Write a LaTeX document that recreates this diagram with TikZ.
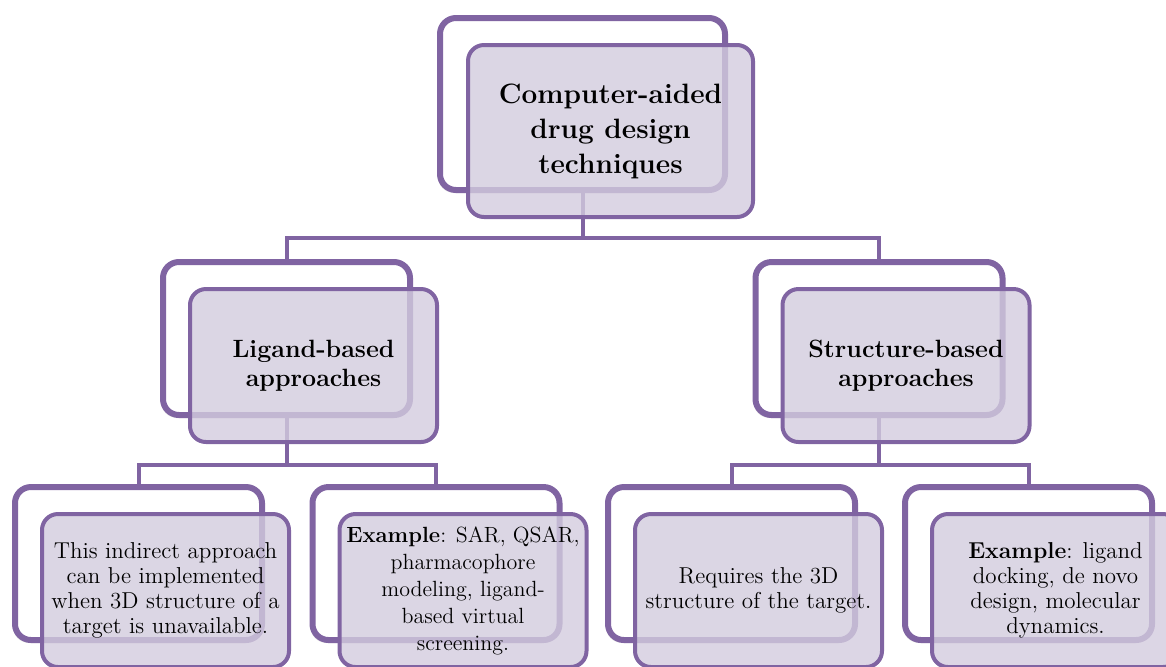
\documentclass[tikz,border=0pt]{standalone}
\usepackage{tikz}
\usetikzlibrary{shadows}

\definecolor{caddpurple}{RGB}{128,100,162}
\definecolor{caddlav}{RGB}{211,204,222}

\tikzset{
  backbox/.style={draw=caddpurple, line width=3pt, rounded corners=8pt, fill=white,
    minimum width=123.5pt, minimum height=76.5pt,
    drop shadow={shadow xshift=-1pt, shadow yshift=-1.5pt, opacity=0.18}},
  frontbox/.style={draw=caddpurple, line width=2pt, rounded corners=8pt,
    fill=caddlav, fill opacity=0.8, text opacity=1, align=center, inner sep=2pt,
    minimum width=123.5pt, minimum height=76.5pt},
  link/.style={draw=caddpurple, line width=2pt},
  toptext/.style={font=\fontsize{14}{17.5}\selectfont\bfseries},
  midtext/.style={font=\fontsize{12.5}{14.5}\selectfont\bfseries},
  lowtext/.style={font=\fontsize{11.5}{12.5}\selectfont},
}

\begin{document}
\begin{tikzpicture}[x=0.5pt,y=-0.5pt]
      \useasboundingbox (0,0) rectangle (1166,666);
      % back boxes
      \node[backbox, minimum width=142.5pt, minimum height=86pt] (cadd) at (582.5,104) {};
      \node[backbox] (lig) at (286.5,338.5) {};
      \node[backbox] (str) at (879,338.5) {};
      \node[backbox] (lig1) at (138.5,563.5) {};
      \node[backbox] (lig2) at (436,563.5) {};
      \node[backbox] (str1) at (731.5,563.5) {};
      \node[backbox] (str2) at (1028.5,563.5) {};
      % connectors
      \coordinate (j0) at (582.5,238);
      \coordinate (j1) at (286.5,465);
      \coordinate (j2) at (879,465);
      \draw[link] (cadd.south) -- (j0) -| (lig.north);
      \draw[link] (j0) -| (str.north);
      \draw[link] (lig.south) -- (j1) -| (lig1.north);
      \draw[link] (j1) -| (lig2.north);
      \draw[link] (str.south) -- (j2) -| (str1.north);
      \draw[link] (j2) -| (str2.north);
      % front boxes with the text
      \node[frontbox, toptext, minimum width=142.5pt, minimum height=86pt] (cadd-f)
        at ([shift={(28,27)}]cadd.center) {Computer-aided\\drug design\\techniques};
      \node[frontbox, midtext] (lig-f) at ([shift={(27,27)}]lig.center)
        {Ligand-based\\approaches};
      \node[frontbox, midtext] (str-f) at ([shift={(27,27)}]str.center)
        {Structure-based\\approaches};
      \node[frontbox, lowtext] (lig1-f) at ([shift={(27,27)}]lig1.center)
        {This indirect approach\\can be implemented\\when 3D structure of a\\target is unavailable.};
      \node[frontbox, lowtext, font=\fontsize{11}{13.5}\selectfont] (lig2-f)
        at ([shift={(27,27)}]lig2.center)
        {\textbf{Example}: SAR, QSAR,\\pharmacophore\\modeling, ligand-\\based virtual\\screening.};
      \node[frontbox, lowtext] (str1-f) at ([shift={(27,27)}]str1.center)
        {Requires the 3D\\structure of the target.};
      \node[frontbox, lowtext] (str2-f) at ([shift={(27,27)}]str2.center)
        {\textbf{Example}: ligand\\docking, de novo\\design, molecular\\dynamics.};
\end{tikzpicture}
\end{document}
